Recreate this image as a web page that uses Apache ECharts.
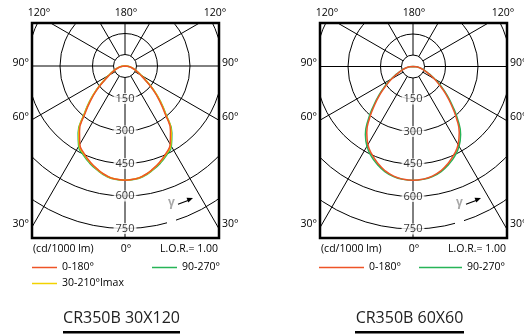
<!DOCTYPE html>
<html><head><meta charset="utf-8">
<script src="https://cdn.jsdelivr.net/npm/echarts@6/dist/echarts.min.js"></script>
<style>html,body{margin:0;padding:0;background:#fff}#c{width:524px;height:336px}</style>
</head><body><div id="c"></div>
<script>
// gamma angles (deg from nadir) for the intensity arrays below
const gammaAngles = [0,5,10,15,20,25,30,35,40,45,50,55,60,65,70,75,80,85,90];
// intensities cd/1000 lm — CR350B 30X120
const a_0_180   = [527,524,512,493,471,446,417,366,288,224,167,116,83,61,46,33,22,11,0];
const a_90_270  = [527,525,515,497,477,454,428,377,296,231,172,120,86,63,47,34,23,11,0];
const a_30_210  = [527,524,513,494,473,449,422,372,294,230,173,121,87,64,48,35,23,11,0];
// intensities cd/1000 lm — CR350B 60X60
const b_0_180   = [525,522,514,498,475,448,416,372,312,250,197,150,112,80,58,42,28,14,0];
const b_90_270  = [525,523,516,502,481,456,425,383,322,259,205,157,117,84,61,44,29,14,0];
// ring tick labels
const ringTicks = [150,300,450,600,750];
const topLabels = ['120°','180°','120°'];
const sideLabels = ['90°','60°','30°'];
const bottomLabels = ['(cd/1000 lm)','0°','L.O.R.= 1.00'];
const seriesNames = ['0-180°','90-270°','30-210°Imax'];
const titles = ['CR350B 30X120','CR350B 60X60'];

const RED='#EE5427', GREEN='#27B457', YELLOW='#F2D200';
const FONT='"Open Sans", "Liberation Sans", sans-serif';

function curve(vals){
  const pts=[];
  for(let i=vals.length-1;i>=0;i--) pts.push([vals[i], gammaAngles[i]]);
  for(let i=1;i<vals.length;i++) pts.push([vals[i], 360-gammaAngles[i]]);
  return pts;
}

const panels=[{cx:125,cy:66,dx:0},{cx:413,cy:66.5,dx:288}];

const polar=panels.map(p=>({center:[p.cx,p.cy],radius:195}));
const angleAxis=panels.map((p,i)=>({polarIndex:i,type:'value',min:0,max:360,interval:30,startAngle:270,clockwise:true,
  axisLine:{show:false},axisTick:{show:false},axisLabel:{show:false},
  splitLine:{show:true,lineStyle:{color:'#000',width:1}}}));
const radiusAxis=panels.map((p,i)=>({polarIndex:i,type:'value',min:0,max:900,interval:150,
  axisLine:{show:false},axisTick:{show:false},axisLabel:{show:false},
  splitLine:{show:true,lineStyle:{color:['#000','#000','#000','#000','#000','#000','rgba(0,0,0,0)'],width:1}}}));

function lineSeries(name,vals,color,pi,z){
  return {type:'line',name,coordinateSystem:'polar',polarIndex:pi,data:curve(vals),smooth:0.5,symbol:'none',
    itemStyle:{color},lineStyle:{color,width:1.5},z,silent:true,animation:false};
}
const series=[];
panels.forEach((p,i)=>{
  series.push({type:'scatter',coordinateSystem:'polar',polarIndex:i,data:[[0,0]],symbol:'circle',symbolSize:23,
    itemStyle:{color:'#fff',opacity:1,borderColor:'#000',borderWidth:1},z:2,silent:true,animation:false});
  series.push({type:'scatter',coordinateSystem:'polar',polarIndex:i,data:ringTicks.map(v=>[v,0]),symbolSize:0,
    label:{show:true,position:'inside',formatter:q=>String(q.value[0]),color:'#000',fontSize:11,fontFamily:FONT,
      backgroundColor:'#fff',padding:[0,2]},z:4,silent:true,animation:false});
});
series.push(lineSeries(seriesNames[1],a_90_270,GREEN,0,3));
series.push(lineSeries(seriesNames[2],a_30_210,YELLOW,0,3));
series.push(lineSeries(seriesNames[0],a_0_180,RED,0,3));
series.push(lineSeries(seriesNames[1],b_90_270,GREEN,1,3));
series.push(lineSeries(seriesNames[0],b_0_180,RED,1,3));

function legendItem(name,left,top,w){
  return {data:[name],left,top,orient:'horizontal',icon:'rect',itemWidth:w,itemHeight:1.5,itemGap:0,padding:0,
    textStyle:{color:'#000',fontSize:10.5,fontFamily:FONT},selectedMode:false,z:60};
}
const legend=[
  legendItem(seriesNames[0],32,262,25),
  legendItem(seriesNames[1],152,262,25),
  legendItem(seriesNames[2],32,278,25),
  legendItem(seriesNames[0],319,262,45),
  legendItem(seriesNames[1],419,262,43)
];

function txt(text,x,y,align){
  return {type:'text',x,y,z:60,style:{text,fill:'#000',font:'10.5px '+FONT,align,verticalAlign:'middle'}};
}
const graphic=[];
// white covers outside the two frames
[[0,0,524,23],[0,238,524,98],[0,0,32,336],[219,0,100,336],[506,0,18,336]].forEach(r=>{
  graphic.push({type:'rect',z:50,shape:{x:r[0],y:r[1],width:r[2],height:r[3]},style:{fill:'#fff'}});
});
panels.forEach((p,i)=>{
  const d=p.dx;
  graphic.push({type:'rect',z:60,shape:{x:32+d,y:23,width:187,height:215},style:{fill:'none',stroke:'#000',lineWidth:2.5}});
  graphic.push(txt(topLabels[0],39+d,13,'center'));
  graphic.push(txt(topLabels[1],126+d,13,'center'));
  graphic.push(txt(topLabels[2],215+d,13,'center'));
  [63,117,224].forEach((y,k)=>{
    graphic.push(txt(sideLabels[k],29+d,y,'right'));
    graphic.push(txt(sideLabels[k],222+d,y,'left'));
  });
  graphic.push(txt(bottomLabels[0],33+d,249,'left'));
  graphic.push(txt(bottomLabels[1],126+d,249,'center'));
  graphic.push(txt(bottomLabels[2],218+d,249,'right'));
  // gamma marker
  graphic.push({type:'rect',z:55,shape:{x:167+d,y:196,width:9,height:29},style:{fill:'#fff'}});
  graphic.push({type:'text',x:171.5+d,y:203,z:60,style:{text:'γ',fill:'#A8A8A8',font:'bold 12px '+FONT,align:'center',verticalAlign:'middle'}});
  graphic.push({type:'line',z:60,shape:{x1:178+d,y1:204.3,x2:188+d,y2:200.5},style:{stroke:'#000',lineWidth:1.2}});
  graphic.push({type:'polygon',z:60,shape:{points:[[193+d,198],[188.3+d,202.4],[186.5+d,197.7]]},style:{fill:'#000'}});
});
// titles
[[121.5,63,117],[409.5,355,109]].forEach((t,i)=>{
  graphic.push({type:'text',x:t[0],y:318,z:60,style:{text:titles[i],fill:'#222',font:'16px '+FONT,align:'center',verticalAlign:'middle'}});
  graphic.push({type:'rect',z:60,shape:{x:t[1],y:331,width:t[2],height:2.5},style:{fill:'#000'}});
});

const chart=echarts.init(document.getElementById('c'),null,{renderer:'canvas'});
chart.setOption({animation:false,backgroundColor:'#fff',polar,angleAxis,radiusAxis,series,legend,graphic});
</script></body></html>
